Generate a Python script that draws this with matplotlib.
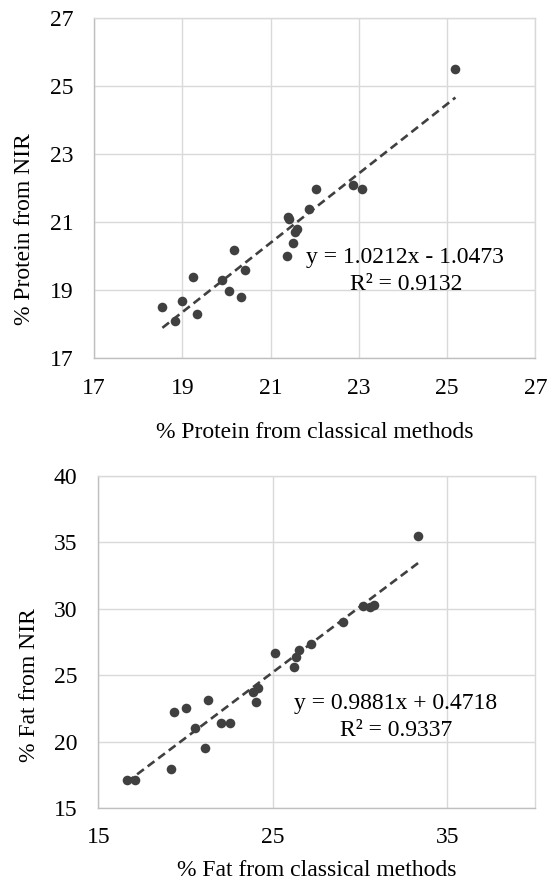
import numpy as np
import matplotlib
matplotlib.use('Agg')
import matplotlib.pyplot as plt

plt.rcParams['font.family'] = ['Liberation Serif', 'DejaVu Serif']

# protein: classical vs NIR
protein_classical = [25.19, 22.87, 23.08, 22.03, 21.87, 21.40, 21.42, 21.59, 21.55, 21.52, 21.37,
                     20.18, 20.43, 19.89, 19.24, 20.06, 20.32, 18.99, 18.55, 19.33, 18.84]
protein_nir = [25.50, 22.10, 21.99, 21.99, 21.39, 21.17, 21.09, 20.80, 20.71, 20.39, 20.01,
               20.20, 19.61, 19.29, 19.40, 18.99, 18.79, 18.69, 18.50, 18.30, 18.09]
protein_eq = 'y = 1.0212x - 1.0473'
protein_r2 = 'R² = 0.9132'

# fat: classical vs NIR
fat_classical = [33.34, 30.19, 30.57, 30.82, 29.02, 27.17, 26.50, 26.31, 26.21, 25.12, 24.15, 23.88,
                 24.02, 21.30, 20.00, 19.34, 20.54, 22.01, 22.56, 21.09, 19.15, 16.62, 17.10]
fat_nir = [35.51, 30.24, 30.16, 30.31, 29.01, 27.35, 26.90, 26.35, 25.62, 26.65, 24.01, 23.76,
           23.01, 23.13, 22.56, 22.20, 21.05, 21.43, 21.43, 19.49, 17.94, 17.11, 17.11]
fat_eq = 'y = 0.9881x + 0.4718'
fat_r2 = 'R² = 0.9337'

W, H = 554, 886
fig = plt.figure(figsize=(W / 100, H / 100), dpi=100)
dark = '#404040'
grid = '#d9d9d9'
fs = 17


def ftxt(x, y, s, **kw):
    # place text at pixel position (x, y from top)
    fig.text(x / W, 1 - y / H, s, fontsize=fs, ha='center', va='center', **kw)


def panel(rect, xs, ys, xlim, ylim, xt, yt, xlabel, ylabel, xlab_y, ylab_xy, eq, r2, eq_xy, r2_xy):
    ax = fig.add_axes([rect[0] / W, 1 - rect[3] / H, (rect[2] - rect[0]) / W, (rect[3] - rect[1]) / H])
    ax.set_xlim(xlim)
    ax.set_ylim(ylim)
    ax.set_xticks(xt)
    ax.set_yticks(yt)
    ax.grid(True, color=grid, linewidth=1.0)
    ax.set_axisbelow(True)
    for s in ax.spines.values():
        s.set_color(grid)
        s.set_linewidth(1.0)
    ax.spines['left'].set_color('#bfbfbf')
    ax.spines['bottom'].set_color('#bfbfbf')
    ax.tick_params(length=0, labelsize=fs, colors='black')
    ax.tick_params(axis='x', pad=14)
    ax.tick_params(axis='y', pad=15)
    ax.scatter(xs, ys, s=48, color=dark, zorder=3, linewidths=0)
    m, b = np.polyfit(xs, ys, 1)
    lx = np.array([min(xs), max(xs)])
    ax.plot(lx, m * lx + b, color=dark, lw=1.9, linestyle=(0, (3.2, 1.8)), zorder=2)
    ftxt((rect[0] + rect[2]) / 2, xlab_y, xlabel)
    ftxt(ylab_xy[0], ylab_xy[1], ylabel, rotation=90)
    ftxt(eq_xy[0], eq_xy[1], eq)
    ftxt(r2_xy[0], r2_xy[1], r2)
    return ax


panel((94, 18.3, 535.3, 358.3), protein_classical, protein_nir, (17, 27), (17, 27),
      [17, 19, 21, 23, 25, 27], [17, 19, 21, 23, 25, 27],
      '% Protein from classical methods', '% Protein from NIR', 432, (25, 229),
      protein_eq, protein_r2, (405, 258), (406, 285))

panel((98.3, 476, 534.7, 808), fat_classical, fat_nir, (15, 40), (15, 40),
      [15, 25, 35], [15, 20, 25, 30, 35, 40],
      '% Fat from classical methods', '% Fat from NIR', 870, (30, 685),
      fat_eq, fat_r2, (396, 704), (396, 730))

fig.savefig('out.png', dpi=100)
